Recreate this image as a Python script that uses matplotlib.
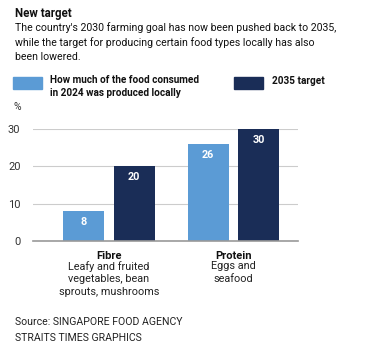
import numpy as np
import matplotlib.pyplot as plt

# ------------------------------------------------------
# Data
categories = ['Fibre', 'Protein']
category_notes = ['Leafy and fruited\nvegetables, bean\nsprouts, mushrooms', 'Eggs and\nseafood']
produced_2024 = [8, 26]
target_2035 = [20, 30]
series_labels = ['How much of the food consumed\nin 2024 was produced locally', '2035 target']
y_ticks = [0, 10, 20, 30]
# ------------------------------------------------------

light = '#5b9bd5'
dark = '#1a2d57'
plt.rcParams['font.family'] = ['Roboto', 'DejaVu Sans']

fig = plt.figure(figsize=(3.65, 3.57), dpi=100)
W, H = 365, 357

def fx(px):
    return px / W

def fy(py):
    return 1 - py / H

# header text
fig.text(fx(15), fy(13), 'New target', fontsize=8.3, fontweight='bold', va='center', color='#111111')
fig.text(fx(15), fy(42), "The country's 2030 farming goal has now been pushed back to 2035,\n"
         "while the target for producing certain food types locally has also\n"
         "been lowered.", fontsize=7.6, va='center', linespacing=1.45, color='#111111')

# legend
fig.patches.append(plt.Rectangle((fx(13), fy(89)), fx(29), 12 / H, color=light, transform=fig.transFigure))
fig.patches.append(plt.Rectangle((fx(234), fy(89)), fx(29), 12 / H, color=dark, transform=fig.transFigure))
fig.text(fx(50), fy(86.5), series_labels[0], fontsize=7.2, fontweight='bold', va='center', linespacing=1.35, color='#111111')
fig.text(fx(272), fy(81), series_labels[1], fontsize=7.2, fontweight='bold', va='center', color='#111111')
fig.text(fx(14), fy(107), '%', fontsize=7.5, va='center', color='#333333')

# axes
ax = fig.add_axes([fx(33), fy(241), fx(298) - fx(33), fy(129) - fy(241)])
x = np.arange(len(categories))
bw = 0.33
off = 0.203
b1 = ax.bar(x - off, produced_2024, bw, color=light, zorder=3)
b2 = ax.bar(x + off, target_2035, bw, color=dark, zorder=3, clip_on=False)
for bars, vals in [(b1, produced_2024), (b2, target_2035)]:
    for r, v in zip(bars, vals):
        ax.text(r.get_x() + r.get_width() / 2, v - 2.9, str(v), ha='center', va='center',
                color='white', fontsize=7.8, fontweight='bold', zorder=4)

ax.set_xlim(-0.61, 1.52)
ax.set_ylim(0, 30)
ax.set_yticks(y_ticks)
ax.yaxis.grid(True, color='#cccccc', linewidth=0.8, zorder=0)
ax.tick_params(axis='y', length=0, labelsize=8, labelcolor='#333333', pad=9)
ax.set_xticks([])
for s in ['top', 'right', 'left']:
    ax.spines[s].set_visible(False)
ax.spines['bottom'].set_color('#999999')
ax.spines['bottom'].set_linewidth(1.2)
ax.spines['bottom'].set_zorder(5)

for xi, cat, note in zip(x, categories, category_notes):
    ax.annotate(cat, (xi, 0), xytext=(0, -11), textcoords='offset points', ha='center', va='center',
                fontsize=8, fontweight='bold', color='#111111', annotation_clip=False)
    ax.annotate(note, (xi, 0), xytext=(0, -14.5), textcoords='offset points', ha='center', va='top',
                fontsize=7.8, linespacing=1.3, color='#222222', annotation_clip=False)

# footer
fig.text(fx(15), fy(322), 'Source: SINGAPORE FOOD AGENCY', fontsize=7.6, va='center', color='#222222')
fig.text(fx(15), fy(338), 'STRAITS TIMES GRAPHICS', fontsize=7.6, va='center', color='#222222')

fig.savefig('out.png', dpi=100, facecolor='white')
